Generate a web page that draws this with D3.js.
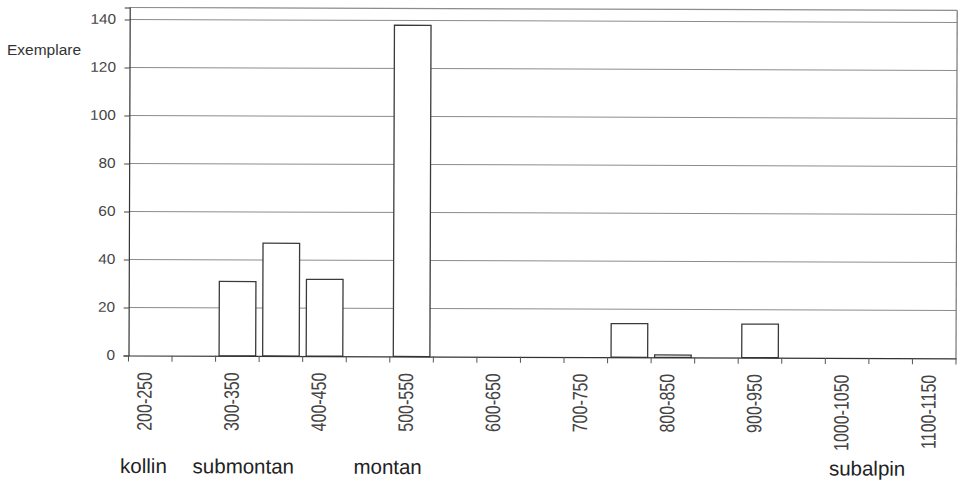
<!DOCTYPE html>
<html><head><meta charset="utf-8">
<script src="https://cdn.jsdelivr.net/npm/d3@7"></script>
<style>
body{margin:0;background:#fff}
svg{display:block}
text{font-family:"Liberation Sans",Arial,Helvetica,sans-serif}
</style>
</head><body>
<svg id="c" width="959" height="483"></svg>
<script>
// ---- data ----
const categories = ["200-250","250-300","300-350","350-400","400-450","450-500","500-550","550-600","600-650","650-700","700-750","750-800","800-850","850-900","900-950","950-1000","1000-1050","1050-1100","1100-1150"];
const values = [0,0,31,47,32,0,138,0,0,0,0,14,1,0,14,0,0,0,0];
const yTicks = [0,20,40,60,80,100,120,140];
const xLabels = ["200-250","300-350","400-450","500-550","600-650","700-750","800-850","900-950","1000-1050","1100-1150"];
const zoneNames = ["kollin","submontan","montan","subalpin"];
const zoneCats = ["200-250","300-350","500-550","1000-1050"];
const yTitle = "Exemplare";

// ---- layout ----
const L = 128.5, R = 956, T = 7.5, B = 355.5;
const zoneDx = [-8,-22.6,-36,4];

const svg = d3.select("#c");
const g = svg.append("g").attr("transform","rotate(0.2,128,355)");

const x = d3.scaleBand().domain(categories).range([L,R]).paddingInner(0.16).paddingOuter(0.08);
const y = d3.scaleLinear().domain([0,145]).range([B,T]);

// boundaries of bands
const boundaries = d3.range(categories.length+1).map(i => L + i*(R-L)/categories.length);

// gridlines
g.append("g").selectAll("line").data(yTicks.filter(d=>d>0)).join("line")
  .attr("x1",L).attr("x2",R).attr("y1",d=>y(d)).attr("y2",d=>y(d))
  .attr("stroke","#8c8c8c").attr("stroke-width",1);

// top & right border
g.append("line").attr("x1",L).attr("x2",R).attr("y1",T).attr("y2",T).attr("stroke","#8c8c8c").attr("stroke-width",1.2);
g.append("line").attr("x1",R).attr("x2",R).attr("y1",T).attr("y2",B).attr("stroke","#777").attr("stroke-width",1.2);

// bars
const barData = values.map((v,i)=>({c:categories[i],v})).filter(d=>d.v>0);
g.append("g").selectAll("rect").data(barData).join("rect")
  .attr("x",d=>x(d.c)).attr("width",x.bandwidth())
  .attr("y",d=>y(d.v)).attr("height",d=>B-y(d.v))
  .attr("fill","#fff").attr("stroke","#3a3a3a").attr("stroke-width",1.3);

// y axis
const ya = g.append("g").attr("transform",`translate(${L},0)`)
  .call(d3.axisLeft(y).tickValues(yTicks).tickSize(5).tickPadding(0));
ya.select(".domain").attr("stroke","#333").attr("stroke-width",1.2);
ya.selectAll(".tick line").attr("stroke","#444");
ya.selectAll(".tick text").attr("font-size",14).attr("fill","#444")
  .attr("x",-12.3).attr("dy","0.27em").attr("transform","scale(1.1,1)");

// x axis line and ticks
const xa = g.append("g").attr("transform",`translate(0,${B})`)
  .call(d3.axisBottom(x).tickValues([]).tickSizeOuter(0));
xa.select(".domain").attr("stroke","#333").attr("stroke-width",1.2);
g.append("g").selectAll("line").data(boundaries).join("line")
  .attr("x1",d=>d).attr("x2",d=>d).attr("y1",B).attr("y2",B+6)
  .attr("stroke","#555").attr("stroke-width",1);

// x labels (rotated)
g.append("g").selectAll("text").data(xLabels).join("text")
  .attr("transform",d=>`translate(${x(d)+x.bandwidth()/2+1.5},${B+16.5}) rotate(-90) scale(1,1.3)`)
  .attr("text-anchor","end").attr("font-size",16).attr("fill","#444")
  .text(d=>d);

// zone labels
g.append("g").selectAll("text").data(zoneNames).join("text")
  .attr("x",(d,i)=>{const bi=categories.indexOf(zoneCats[i]);return boundaries[bi]+zoneDx[i];})
  .attr("y",473)
  .attr("font-size",20.5).attr("fill","#222")
  .text(d=>d);

// y title
svg.append("text").attr("x",7).attr("y",55).attr("font-size",15.5).attr("fill","#333").text(yTitle);
</script>
</body></html>
